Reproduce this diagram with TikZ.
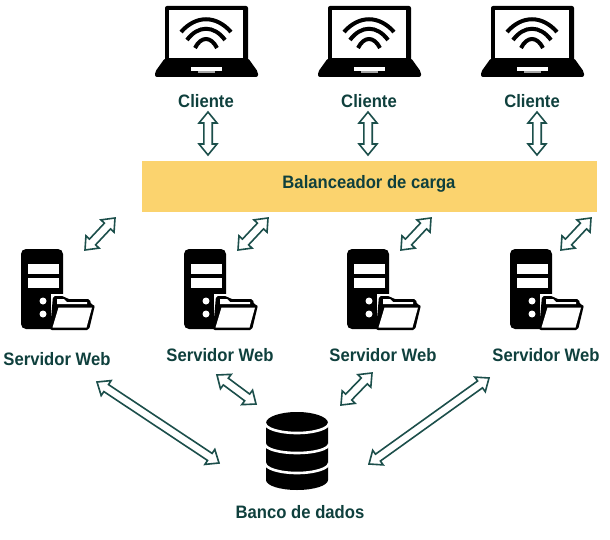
\documentclass[tikz,border=0pt]{standalone}
\usepackage{fontspec}
\setmainfont{Liberation Sans}
\usetikzlibrary{calc}
\definecolor{tealdark}{HTML}{0F403D}
\definecolor{arrowteal}{HTML}{1C4F4B}
\definecolor{bandyellow}{HTML}{FBD36E}
\tikzset{
  lbl/.style={text=tealdark,font=\fontsize{18}{20}\selectfont\bfseries,inner sep=0pt,xscale=.925,transform shape},
  arrowshape/.style={draw=arrowteal,line width=1.6pt,fill=white,line join=miter},
  dbband/.style={draw=white,line width=2.6pt},
  laptop/.pic={
    \fill[black,rounded corners=2pt] (-41,6) rectangle (42,62);
    \fill[black,rounded corners=2pt] (-41,58) -- (-37,58) -- (37,58) -- (42,58) -- (52,72) -- (52,77) -- (-51,77) -- (-51,72) -- cycle;
    \fill[white] (-37,10) rectangle (37,58);
    \fill[white] (-15,67) rectangle (16,71);
    \fill[gray!70] (-8,71) rectangle (9,73);
    \draw[black,line width=4pt] (-25,32) .. controls (-10,15) and (10,15) .. (25,32);
    \draw[black,line width=4pt] (-19,40) .. controls (-8,25) and (8,25) .. (19,40);
    \draw[black,line width=4pt] (-11,48) .. controls (-5,36) and (5,36) .. (11,48);
  },
  server/.pic={
    \fill[black,rounded corners=5pt] (21,249) rectangle (63,329);
    \fill[white] (28,264) rectangle (59,274);
    \fill[white] (28,278) rectangle (59,288);
    \fill[white] (43,301) circle (3.5);
    \fill[white] (43,314) circle (3.5);
    \fill[white] (51,294) rectangle (96,333);
    \fill[black,rounded corners=2pt] (53,296) -- (64,296) -- (67,299) -- (90,299) -- (91,305) -- (95,305) -- (89,330) -- (50,330) -- cycle;
    \fill[white] (57,299) -- (64,299) -- (67,302) -- (87,302) -- (87,304) -- (57,304) -- cycle;
    \fill[white] (58.5,307.5) -- (92,307.5) -- (86.5,327.5) -- (52.5,327.5) -- cycle;
  },
}
\newcommand{\hollowarrow}[2]{%
  \draw[arrowshape]
    (#1)
    -- ($($(#1)!11pt!(#2)$)!9pt!90:(#2)$)
    -- ($($(#1)!11pt!(#2)$)!4.2pt!90:(#2)$)
    -- ($($(#2)!11pt!(#1)$)!4.2pt!-90:(#1)$)
    -- ($($(#2)!11pt!(#1)$)!9pt!-90:(#1)$)
    -- (#2)
    -- ($($(#2)!11pt!(#1)$)!9pt!90:(#1)$)
    -- ($($(#2)!11pt!(#1)$)!4.2pt!90:(#1)$)
    -- ($($(#1)!11pt!(#2)$)!4.2pt!-90:(#2)$)
    -- ($($(#1)!11pt!(#2)$)!9pt!-90:(#2)$)
    -- cycle;}
\begin{document}
\begin{tikzpicture}[x=1pt,y=-1pt]
\useasboundingbox (0,0) rectangle (610,540);
\fill[white] (0,0) rectangle (610,540);
% laptops
\pic at (206,0) {laptop};
\pic at (369,0) {laptop};
\pic at (532,0) {laptop};
\node[lbl] (c1) at (206,101) {Cliente};
\node[lbl] (c2) at (369,101) {Cliente};
\node[lbl] (c3) at (532,101) {Cliente};
% load balancer
\node[fill=bandyellow,minimum width=455pt,minimum height=51pt,inner sep=0pt,anchor=north west] (lb) at (142,161) {};
\node[lbl] (lbt) at (369,184) {Balanceador de carga};
% servers
\pic at (0,0) {server};
\pic at (163,0) {server};
\pic at (326,0) {server};
\pic at (489,0) {server};
\node[lbl] (s1) at (57,359) {Servidor Web};
\node[lbl] (s2) at (220,355) {Servidor Web};
\node[lbl] (s3) at (383,355) {Servidor Web};
\node[lbl] (s4) at (546,355) {Servidor Web};
% database
\fill[black] (266,423) arc[start angle=180,end angle=360,x radius=31,y radius=11] -- (328,480) arc[start angle=0,end angle=180,x radius=31,y radius=10] -- cycle;
\draw[dbband] (265,423) arc[start angle=180,end angle=0,x radius=32,y radius=10];
\draw[dbband] (265,444) arc[start angle=180,end angle=0,x radius=32,y radius=9];
\draw[dbband] (265,463) arc[start angle=180,end angle=0,x radius=32,y radius=10];
\node[lbl] (db) at (300,512) {Banco de dados};
% connector ends
\foreach \n/\x/\y in {a1/208/112,a2/208/155,b1/368/112,b2/368/155,c1e/537/112,c2e/537/155,
  d1/85/250,d2/115/218,e1/238/250,e2/268/218,f1/401/250,f2/431/218,g1/561/250,g2/591/218,
  h1/97/382,h2/219/463,i1/217/375,i2/256/404,j1/372/373,j2/341/405,k1/489/378,k2/369/464}
  {\coordinate (\n) at (\x,\y);}
\hollowarrow{a1}{a2}
\hollowarrow{b1}{b2}
\hollowarrow{c1e}{c2e}
\hollowarrow{d1}{d2}
\hollowarrow{e1}{e2}
\hollowarrow{f1}{f2}
\hollowarrow{g1}{g2}
\hollowarrow{h1}{h2}
\hollowarrow{i1}{i2}
\hollowarrow{j1}{j2}
\hollowarrow{k1}{k2}
\end{tikzpicture}
\end{document}
